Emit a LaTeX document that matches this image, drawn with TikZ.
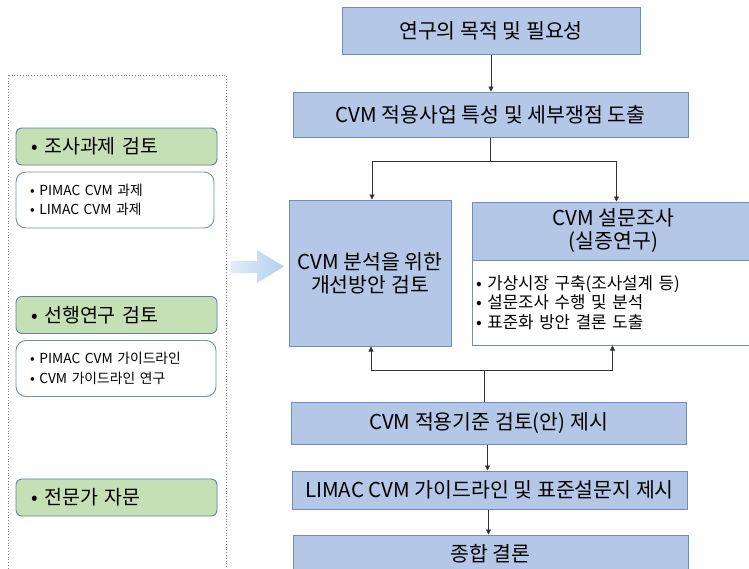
\documentclass[tikz,border=0pt]{standalone}
\usepackage{fontspec}
\setmainfont{Noto Sans CJK KR}
\usetikzlibrary{arrows.meta,calc}
\definecolor{boxfill}{RGB}{180,199,231}
\definecolor{boxline}{RGB}{109,142,190}
\definecolor{greenfill}{RGB}{197,224,180}
\definecolor{greenline}{RGB}{96,128,165}
\definecolor{arrowA}{RGB}{224,236,248}
\definecolor{arrowB}{RGB}{180,208,238}
\definecolor{conn}{RGB}{50,50,50}
\begin{document}
\begin{tikzpicture}[x=1pt,y=-1pt,
  bluebox/.style={draw=boxline, fill=boxfill, line width=1pt, inner sep=0pt,
    font=\fontsize{20.5}{23}\selectfont, align=center},
  greenbox/.style={draw=greenline, fill=greenfill, rounded corners=6pt, line width=0.9pt,
    minimum height=37pt, text width=171pt, inner xsep=15pt, inner ysep=0pt, align=left,
    font=\fontsize{19.5}{22}\selectfont},
  whitebox/.style={draw=boxline, fill=white, rounded corners=10pt, line width=0.9pt,
    minimum height=56pt, inner xsep=14pt, inner ysep=0pt, align=left,
    font=\fontsize{13.8}{19.5}\selectfont},
  bodybox/.style={draw=boxline, fill=white, line width=1pt, inner xsep=4pt, inner ysep=0pt,
    align=left, font=\fontsize{16.8}{19.5}\selectfont},
  arr/.style={-{Triangle[length=5pt,width=5pt]}, line width=0.8pt, draw=conn},
  plain/.style={line width=0.8pt, draw=conn},
  panel/.style={draw=gray, dotted, line width=0.8pt}
]
\useasboundingbox (0,0) rectangle (749,568);
\clip (0,0) rectangle (749,568);
\fill[white] (0,0) rectangle (749,568);

% left panel
\draw[panel] (8,75) rectangle (226,590);
\node[greenbox] (g1) at (116.5,146.5) {• 조사과제 검토};
\node[whitebox, text width=170pt] (w1) at (115,200) {• PIMAC CVM 과제\\• LIMAC CVM 과제};
\node[greenbox] (g2) at (116.5,315) {• 선행연구 검토};
\node[whitebox, text width=172pt] (w2) at (116,368.5) {• PIMAC CVM 가이드라인\\• CVM 가이드라인 연구};
\node[greenbox] (g3) at (116.5,497.5) {• 전문가 자문};

% big arrow
\shade[left color=arrowA, right color=arrowB]
  (231,261) -- (257,261) -- (257,250) -- (284,266.5) -- (257,283) -- (257,273) -- (231,273) -- cycle;

% main flow
\node[bluebox, minimum width=298pt, minimum height=47pt] (b1) at (491,30.5) {연구의 목적 및 필요성};
\node[bluebox, minimum width=395pt, minimum height=45pt] (b2) at (490.5,114.5) {CVM 적용사업 특성 및 세부쟁점 도출};
\node[bluebox, minimum width=162pt, minimum height=146pt] (b3) at (370,273) {CVM 분석을 위한\\개선방안 검토};
\node[bluebox, minimum width=283pt, minimum height=58pt] (b4t) at (613.5,231) {CVM 설문조사\\(실증연구)};
\node[bodybox, minimum width=283pt, minimum height=85pt, text width=275pt] (b4b) at (613.5,302.5)
  {• 가상시장 구축(조사설계 등)\\• 설문조사 수행 및 분석\\• 표준화 방안 결론 도출};
\node[bluebox, minimum width=395pt, minimum height=42pt] (b5) at (488.5,423) {CVM 적용기준 검토(안) 제시};
\node[bluebox, minimum width=395pt, minimum height=38pt] (b6) at (489.5,490) {LIMAC CVM 가이드라인 및 표준설문지 제시};
\node[bluebox, minimum width=395pt, minimum height=38pt] (b7) at (490.5,554) {종합 결론};

% connectors
\draw[arr] (b1.south) -- (b1.south |- b2.north);
\coordinate (s) at ($(b2.south)+(0,24)$);
\draw[plain] (b2.south) -- (s);
\draw[arr] (s) -| ($(b3.north)+(2,0)$);
\draw[arr] (s) -| ($(b4t.north)+(3,0)$);
\coordinate (m) at ($(b5.north)+(-4,-31)$);
\draw[plain] ($(b5.north)+(-4,0)$) -- (m);
\draw[arr] (m) -| ($(b3.south)+(1,0)$);
\draw[arr] (m) -| ($(b4b.south)+(-1,0)$);
\draw[arr] ($(b5.south)+(-1,0)$) -- ($(b5.south |- b6.north)+(-1,0)$);
\draw[arr] ($(b6.south)+(-1,0)$) -- ($(b6.south |- b7.north)+(-1,0)$);
\end{tikzpicture}
\end{document}
